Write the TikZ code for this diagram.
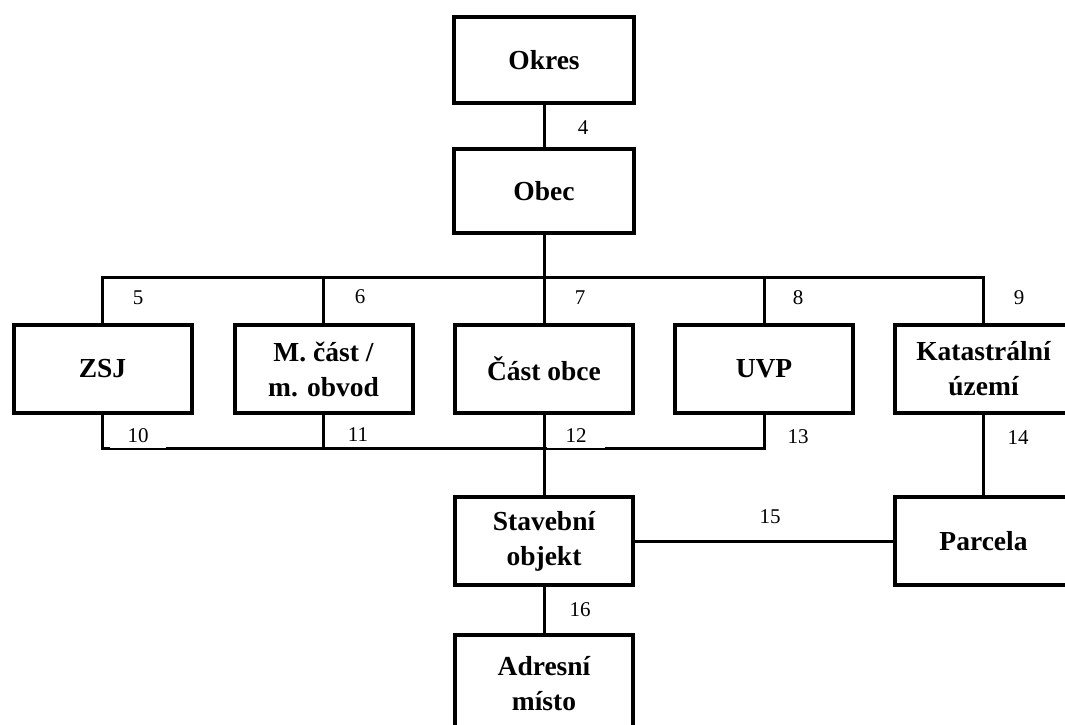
\documentclass[tikz,border=0pt]{standalone}
\usepackage{fontspec}
\setmainfont{Liberation Serif}
\begin{document}
\begin{tikzpicture}[x=1pt,y=-1pt,
  entity/.style={draw=black, line width=4pt, fill=white, align=center,
    inner sep=0pt, minimum width=178pt, minimum height=88pt,
    font=\fontsize{27.5}{35}\selectfont\bfseries},
  conn/.style={line width=3pt, line join=miter},
  num/.style={inner sep=0pt, font=\fontsize{21}{24}\selectfont},
  numcover/.style={num, fill=white, minimum height=24pt, anchor=south}]
\useasboundingbox (0,0) rectangle (1065,724);
\clip (0,0) rectangle (1065,724);

% entities
\node[entity, minimum width=180pt, minimum height=86pt] (okres) at (544,60) {Okres};
\node[entity, minimum width=180pt, minimum height=84pt] (obec) at (544,191) {Obec};
\node[entity] (zsj) at (102.5,369) {ZSJ};
\node[entity] (mcast) at (323.5,369) {M. část /\\m. obvod};
\node[entity] (cobce) at (544,369) {Část obce};
\node[entity] (uvp) at (764,369) {UVP};
\node[entity] (ku) at (983.5,369) {Katastrální\\území};
\node[entity] (so) at (544,541) {Stavební\\objekt};
\node[entity] (parc) at (983.5,541) {Parcela};
\node[entity, minimum height=98pt] (am) at (544,684) {Adresní\\místo};

% bus levels
\coordinate (topbus) at (0,277);
\coordinate (botbus) at (0,448);

% connectors
\draw[conn] (okres.south) -- (obec.north);
\draw[conn] (obec.south) -- (obec.south |- topbus);
\draw[conn] (zsj.north) |- (ku.north |- topbus) -- (ku.north);
\draw[conn] (mcast.north) -- (mcast.north |- topbus);
\draw[conn] (cobce.north) -- (cobce.north |- topbus);
\draw[conn] (uvp.north) -- (uvp.north |- topbus);
\draw[conn] (zsj.south) |- (uvp.south |- botbus) -- (uvp.south);
\draw[conn] (mcast.south) -- (mcast.south |- botbus);
\draw[conn] (cobce.south) -- (so.north);
\draw[conn] (ku.south) -- (parc.north);
\draw[conn] (so.east) -- (parc.west);
\draw[conn] (so.south) -- (am.north);

% relation numbers
\node[num] (n4) at (583,128) {4};
\node[num] (n5) at (138,298) {5};
\node[num] (n6) at (360,297) {6};
\node[num] (n7) at (580,298) {7};
\node[num] (n8) at (798,298) {8};
\node[num] (n9) at (1019,298) {9};
\node[numcover, minimum width=56pt] (n10) at (138,448) {10};
\node[num] (n11) at (358,435) {11};
\node[numcover, minimum width=58pt] (n12) at (576,448) {12};
\node[num] (n13) at (798,437) {13};
\node[num] (n14) at (1018,438) {14};
\node[num] (n15) at (770,517) {15};
\node[num] (n16) at (580,610) {16};
\end{tikzpicture}
\end{document}
